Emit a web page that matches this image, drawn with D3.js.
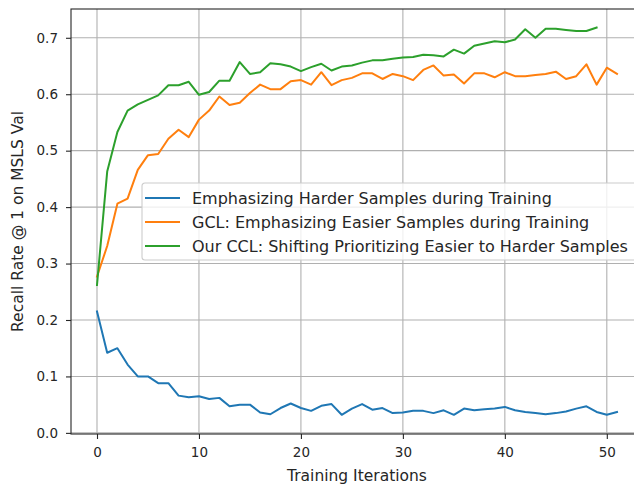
<!DOCTYPE html>
<html>
<head>
<meta charset="utf-8">
<script src="https://cdn.jsdelivr.net/npm/d3@7"></script>
<style>
	body { margin: 0; background: #fff; }
	svg { display: block; font-family: "DejaVu Sans", sans-serif; }
</style>
</head>
<body>
<svg id="chart" width="634" height="484"></svg>
<script>
// values
const iterations = d3.range(0, 52);
const harder = [0.215, 0.142, 0.150, 0.121, 0.100, 0.100, 0.088, 0.088, 0.066, 0.063,
	0.065, 0.060, 0.062, 0.047, 0.050, 0.050, 0.036, 0.033, 0.044, 0.052,
	0.044, 0.039, 0.048, 0.051, 0.032, 0.043, 0.051, 0.041, 0.044, 0.035,
	0.036, 0.039, 0.039, 0.035, 0.040, 0.032, 0.043, 0.040, 0.042, 0.043,
	0.046, 0.040, 0.037, 0.035, 0.033, 0.035, 0.038, 0.043, 0.047, 0.037,
	0.032, 0.037];
const gcl = [0.277, 0.331, 0.406, 0.415, 0.466, 0.492, 0.494, 0.521, 0.537, 0.524,
	0.555, 0.571, 0.596, 0.581, 0.585, 0.602, 0.617, 0.609, 0.609, 0.623,
	0.625, 0.617, 0.639, 0.616, 0.625, 0.629, 0.637, 0.637, 0.627, 0.636,
	0.632, 0.625, 0.643, 0.651, 0.633, 0.635, 0.619, 0.637, 0.637, 0.630,
	0.639, 0.632, 0.632, 0.634, 0.636, 0.640, 0.627, 0.632, 0.653, 0.617,
	0.647, 0.636];
const ccl = [0.262, 0.463, 0.533, 0.571, 0.582, 0.590, 0.598, 0.616, 0.616, 0.622,
	0.599, 0.604, 0.624, 0.624, 0.657, 0.636, 0.639, 0.655, 0.653, 0.649,
	0.641, 0.648, 0.654, 0.642, 0.649, 0.651, 0.656, 0.660, 0.660, 0.663,
	0.665, 0.666, 0.670, 0.669, 0.667, 0.679, 0.672, 0.686, 0.690, 0.694,
	0.692, 0.697, 0.715, 0.700, 0.716, 0.716, 0.714, 0.712, 0.712, 0.718];

const seriesNames = [
	"Emphasizing Harder Samples during Training",
	"GCL: Emphasizing Easier Samples during Training",
	"Our CCL: Shifting Prioritizing Easier to Harder Samples"
];
const seriesColors = ["#1f77b4", "#ff7f0e", "#2ca02c"];
const xTicks = [0, 10, 20, 30, 40, 50];
const yTicks = [0.0, 0.1, 0.2, 0.3, 0.4, 0.5, 0.6, 0.7];

// draws the matplotlib-like line chart
function lineChart(svgElem) {
	const svg = d3.select(svgElem);

	// the right spine sits past the edge of the picture
	const plot = {left: 71, right: 643, top: 9, bottom: 434};

	const x = d3.scaleLinear()
		.domain([-2.55, 53.55])
		.range([plot.left, plot.right]);

	const y = d3.scaleLinear()
		.domain([-0.002, 0.751])
		.range([plot.bottom, plot.top]);

	// grid
	const grid = svg.append("g")
		.attr("stroke", "#b0b0b0")
		.attr("stroke-width", 1.1);
	grid.selectAll("line.gx").data(xTicks).enter()
		.append("line")
		.attr("x1", d => x(d)).attr("x2", d => x(d))
		.attr("y1", plot.top).attr("y2", plot.bottom);
	grid.selectAll("line.gy").data(yTicks).enter()
		.append("line")
		.attr("x1", plot.left).attr("x2", plot.right)
		.attr("y1", d => y(d)).attr("y2", d => y(d));

	// series lines
	const allSeries = [harder, gcl, ccl];
	const line = d3.line()
		.x((d, i) => x(iterations[i]))
		.y(d => y(d));

	svg.append("g")
		.selectAll("path").data(allSeries).enter()
		.append("path")
		.attr("fill", "none")
		.attr("stroke", (d, i) => seriesColors[i])
		.attr("stroke-width", 2)
		.attr("stroke-linejoin", "round")
		.attr("stroke-linecap", "square")
		.attr("d", d => line(d));

	// axes
	const xAxis = g => g
		.attr("transform", `translate(0,${plot.bottom})`)
		.call(d3.axisBottom(x).tickValues(xTicks).tickSizeOuter(0).tickSize(5).tickPadding(8))
		.call(g => g.select(".domain").remove());

	const yAxis = g => g
		.attr("transform", `translate(${plot.left},0)`)
		.call(d3.axisLeft(y).tickValues(yTicks).tickFormat(d3.format(".1f")).tickSizeOuter(0).tickSize(5).tickPadding(8))
		.call(g => g.select(".domain").remove());

	svg.append("g").call(xAxis);
	svg.append("g").call(yAxis);

	svg.selectAll(".tick text")
		.attr("font-family", "DejaVu Sans")
		.attr("font-size", 13.5)
		.attr("fill", "#262626");
	svg.selectAll(".tick line")
		.attr("stroke", "#262626")
		.attr("stroke-width", 1.1);

	// spines
	svg.append("rect")
		.attr("x", plot.left).attr("y", plot.top)
		.attr("width", plot.right - plot.left)
		.attr("height", plot.bottom - plot.top)
		.attr("fill", "none")
		.attr("stroke", "#262626")
		.attr("stroke-width", 1.1);

	// axis labels
	svg.append("text")
		.attr("x", (plot.left + plot.right) / 2)
		.attr("y", 481)
		.attr("text-anchor", "middle")
		.attr("font-size", 15.5)
		.attr("fill", "#262626")
		.text("Training Iterations");

	svg.append("text")
		.attr("transform", `translate(23,${(plot.top + plot.bottom) / 2}) rotate(-90)`)
		.attr("text-anchor", "middle")
		.attr("font-size", 15.5)
		.attr("fill", "#262626")
		.text("Recall Rate @ 1 on MSLS Val");

	// legend
	const legend = svg.append("g").attr("transform", "translate(142,183)");
	legend.append("rect")
		.attr("width", 496).attr("height", 77)
		.attr("rx", 3)
		.attr("fill", "#fff").attr("fill-opacity", 0.8)
		.attr("stroke", "#cccccc").attr("stroke-width", 1.1);

	const rows = legend.selectAll("g.row").data(seriesNames).enter()
		.append("g")
		.attr("transform", (d, i) => `translate(0,${15 + i * 24})`);
	rows.append("line")
		.attr("x1", 3).attr("x2", 38)
		.attr("stroke", (d, i) => seriesColors[i])
		.attr("stroke-width", 2);
	rows.append("text")
		.attr("x", 50).attr("dy", "0.36em")
		.attr("font-size", 16)
		.attr("fill", "#262626")
		.text(d => d);

	return svg.node();
}

lineChart(document.getElementById("chart"));
</script>
</body>
</html>
